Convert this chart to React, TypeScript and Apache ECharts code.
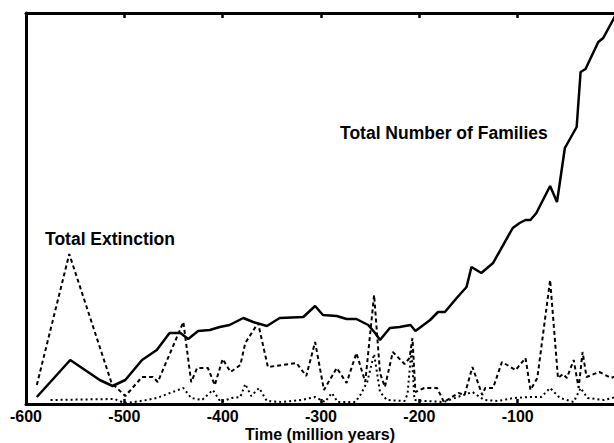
import React, { useEffect, useRef } from "react";
import * as echarts from "echarts";

// Time in million years (negative = before present), values in arbitrary plot units
const xTicks = [-600, -500, -400, -300, -200, -100, 0];
const xTitle = "Time (million years)";

const familiesData: [number, number][] = [
  [-589, 7], [-555, 44], [-525, 24], [-512, 18], [-499, 24], [-482, 44], [-467, 54],
  [-454, 71], [-443, 71], [-435, 65], [-425, 73], [-413, 74], [-403, 77], [-393, 79],
  [-379, 86], [-369, 82], [-355, 78], [-342, 86], [-318, 87], [-306, 98], [-298, 89],
  [-284, 88], [-274, 85], [-264, 85], [-252, 79], [-245, 71], [-240, 64], [-230, 76],
  [-220, 77], [-209, 79], [-204, 73], [-189, 84], [-181, 92], [-174, 92], [-162, 106],
  [-152, 117], [-147, 137], [-137, 131], [-125, 141], [-105, 176], [-98, 181], [-92, 184],
  [-87, 184], [-81, 191], [-67, 218], [-60, 202], [-52, 256], [-40, 277], [-36, 332],
  [-31, 335], [-18, 362], [-13, 366], [-2, 386], [0, 390],
];

const extinctionData: [number, number][] = [
  [-589, 19], [-556, 150], [-513, 21], [-499, 8], [-482, 27], [-471, 27], [-466, 22],
  [-440, 82], [-432, 22], [-426, 36], [-415, 36], [-408, 19], [-400, 45], [-392, 32],
  [-382, 39], [-377, 61], [-364, 81], [-354, 37], [-325, 41], [-315, 28], [-306, 62],
  [-297, 14], [-284, 36], [-274, 21], [-264, 51], [-255, 22], [-246, 109], [-240, 31],
  [-235, 17], [-227, 52], [-215, 40], [-210, 46], [-207, 66], [-204, 12], [-195, 16],
  [-182, 16], [-175, 2], [-160, 11], [-154, 9], [-146, 37], [-136, 9], [-133, 16],
  [-125, 16], [-116, 42], [-102, 34], [-92, 46], [-87, 14], [-80, 26], [-67, 124],
  [-59, 26], [-54, 30], [-50, 26], [-43, 44], [-38, 16], [-34, 52], [-30, 27],
  [-17, 32], [-5, 26], [0, 28],
];

const thirdData: [number, number][] = [
  [-575, 4], [-510, 5], [-500, 1], [-490, 2], [-477, 4], [-467, 6], [-440, 16],
  [-432, 6], [-421, 4], [-410, 14], [-402, 2], [-391, 6], [-382, 7], [-377, 20],
  [-371, 8], [-363, 16], [-355, 3], [-340, 2], [-320, 4], [-306, 7], [-296, 2],
  [-289, 11], [-283, 2], [-265, 2], [-260, 9], [-253, 22], [-246, 50], [-240, 12],
  [-233, 4], [-215, 3], [-212, 10], [-208, 55], [-205, 4], [-195, 3], [-175, 2],
  [-161, 7], [-146, 12], [-134, 4], [-120, 3], [-104, 6], [-87, 7], [-76, 7],
  [-67, 16], [-57, 6], [-43, 2], [-36, 16], [-29, 6], [-12, 4], [0, 7],
];

const FONT = "'Liberation Sans', Arial, Helvetica, sans-serif";

export default function App() {
  const ref = useRef<HTMLDivElement>(null);

  useEffect(() => {
    document.body.style.margin = "0";
    if (!ref.current) return;
    const chart = echarts.init(ref.current, undefined, { renderer: "svg" });
    chart.setOption({
      animation: false,
      backgroundColor: "#fff",
      grid: {
        left: 26,
        top: 13,
        right: -2,
        bottom: 39,
        show: false,
        containLabel: false,
        outerBoundsMode: "none",
      },
      xAxis: [
        {
          type: "value",
          min: xTicks[0],
          max: xTicks[xTicks.length - 1],
          interval: 100,
          position: "bottom",
          splitLine: { show: false },
          axisLine: { show: true, onZero: false, lineStyle: { color: "#000", width: 3 } },
          axisTick: { show: true, inside: true, length: 5, lineStyle: { color: "#000", width: 2.5 } },
          axisLabel: {
            show: true,
            margin: 4,
            fontFamily: FONT,
            fontWeight: "bold",
            fontSize: 16,
            color: "#000",
            formatter: (v: number) => (v === 0 ? "" : String(v)),
          },
        },
        {
          type: "value",
          min: xTicks[0],
          max: xTicks[xTicks.length - 1],
          interval: 100,
          position: "top",
          splitLine: { show: false },
          axisLine: { show: true, onZero: false, lineStyle: { color: "#000", width: 3 } },
          axisTick: { show: true, inside: true, length: 5, lineStyle: { color: "#000", width: 2.5 } },
          axisLabel: { show: false },
        },
      ],
      yAxis: {
        type: "value",
        min: 0,
        max: 391,
        axisLabel: { show: false },
        axisTick: { show: false },
        splitLine: { show: false },
        axisLine: { show: true, onZero: false, lineStyle: { color: "#000", width: 3 } },
      },
      series: [
        {
          type: "line",
          name: "Total Number of Families",
          data: familiesData,
          symbol: "none",
          lineStyle: { color: "#000", width: 2.5, type: "solid" },
          z: 3,
        },
        {
          type: "line",
          name: "Total Extinction",
          data: extinctionData,
          symbol: "none",
          lineStyle: { color: "#000", width: 2, type: [4, 3] },
          z: 2,
        },
        {
          type: "line",
          name: "Other",
          data: thirdData,
          symbol: "none",
          lineStyle: { color: "#000", width: 2, type: [2, 3] },
          z: 1,
        },
      ],
      graphic: [
        {
          type: "text",
          left: 340,
          top: 124,
          style: {
            text: "Total Number of Families",
            fontFamily: FONT,
            fontWeight: "bold",
            fontSize: 17.5,
            fill: "#000",
          },
        },
        {
          type: "text",
          left: 45,
          top: 230,
          style: {
            text: "Total Extinction",
            fontFamily: FONT,
            fontWeight: "bold",
            fontSize: 17.5,
            fill: "#000",
          },
        },
        {
          type: "text",
          left: 245,
          top: 426,
          style: {
            text: xTitle,
            fontFamily: FONT,
            fontWeight: "bold",
            fontSize: 16,
            fill: "#000",
          },
        },
      ],
    });
    return () => chart.dispose();
  }, []);

  return (
    <div
      ref={ref}
      style={{ position: "absolute", left: 0, top: 0, width: 614, height: 443, background: "#fff" }}
    />
  );
}
